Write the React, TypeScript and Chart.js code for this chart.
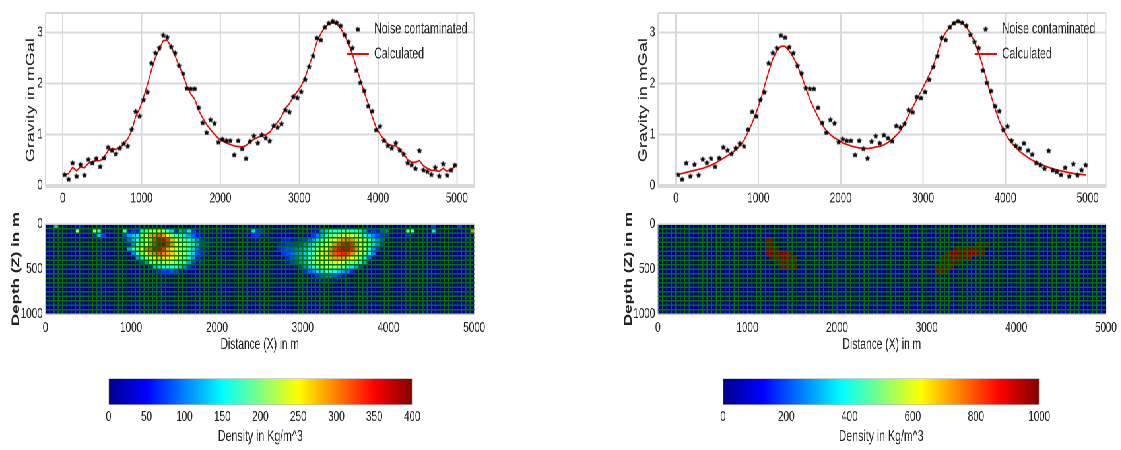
import React, { useEffect, useRef } from "react";
import { Chart, registerables } from "chart.js";

Chart.register(...registerables);

const SX = 0.66; // the whole figure is squeezed horizontally
const FONT = "'Liberation Sans', Arial, sans-serif";
const TEXT = "#222222";
const GRID = "#d9d9d9";

const stations = [25,75,125,175,225,275,325,375,425,475,525,575,625,675,725,775,825,875,925,975,1025,1075,1125,1175,1225,1275,1325,1375,1425,1475,1525,1575,1625,1675,1725,1775,1825,1875,1925,1975,2025,2075,2125,2175,2225,2275,2325,2375,2425,2475,2525,2575,2625,2675,2725,2775,2825,2875,2925,2975,3025,3075,3125,3175,3225,3275,3325,3375,3425,3475,3525,3575,3625,3675,3725,3775,3825,3875,3925,3975,4025,4075,4125,4175,4225,4275,4325,4375,4425,4475,4525,4575,4625,4675,4725,4775,4825,4875,4925,4975];

const noisy = [.21,.12,.44,.18,.41,.20,.51,.44,.53,.37,.54,.75,.69,.62,.73,.82,.77,1.10,1.45,1.36,1.68,1.83,2.40,2.60,2.70,2.95,2.91,2.72,2.60,2.35,2.20,1.91,1.90,1.90,1.53,1.23,1.04,1.29,1.22,.85,.91,.88,.88,.60,.88,.72,.53,.86,.97,.83,.99,.93,.87,1.17,1.14,1.21,1.48,1.44,1.74,1.72,1.84,2.08,2.33,2.54,2.90,2.86,3.11,3.19,3.23,3.20,3.14,2.96,2.82,2.70,2.26,2.02,1.86,1.56,1.46,1.09,1.16,.88,.78,.73,.83,.69,.61,.44,.40,.33,.68,.30,.27,.21,.35,.18,.42,.20,.30,.40];

const calcLeft = [.20,.23,.35,.28,.36,.34,.43,.46,.48,.48,.55,.68,.72,.70,.74,.82,.91,1.07,1.35,1.50,1.73,1.98,2.26,2.51,2.67,2.84,2.85,2.72,2.54,2.35,2.17,1.95,1.79,1.69,1.47,1.32,1.19,1.09,1.00,.92,.87,.83,.80,.77,.76,.75,.78,.85,.90,.94,.97,.99,1.04,1.15,1.24,1.35,1.51,1.60,1.73,1.84,1.95,2.12,2.35,2.57,2.82,2.98,3.11,3.17,3.19,3.17,3.08,2.95,2.78,2.57,2.32,2.07,1.82,1.60,1.35,1.13,1.00,.90,.80,.78,.77,.70,.61,.50,.45,.45,.48,.38,.33,.29,.29,.27,.33,.27,.31,.36];

const calcRight = [.21,.23,.25,.27,.29,.31,.33,.36,.39,.43,.48,.53,.58,.63,.69,.77,.88,1.04,1.22,1.43,1.66,1.95,2.23,2.48,2.64,2.73,2.73,2.64,2.51,2.35,2.15,1.91,1.69,1.51,1.34,1.19,1.07,.99,.93,.88,.83,.80,.77,.75,.73,.72,.72,.73,.75,.76,.79,.84,.90,.98,1.07,1.21,1.38,1.53,1.69,1.84,2.0,2.17,2.35,2.60,2.86,3.0,3.11,3.19,3.23,3.19,3.11,2.98,2.82,2.60,2.35,2.05,1.76,1.50,1.26,1.08,.94,.83,.74,.66,.60,.54,.49,.45,.41,.38,.35,.32,.30,.28,.26,.245,.23,.22,.21,.20];

const gravityTicks = [-0.04, 0, 1, 2, 3, 3.38];
const distanceTicks = [-220, 0, 1000, 2000, 3000, 4000, 5000, 5220];
const COLS = 100;
const ROWS = 20;
const CELL = 50;

// [row, first column, values...] : everything not listed is background (0)
const densityLeftRuns: number[][] = [
  [0, 2, 130], [0, 4, 40], [0, 7, 50, 45], [0, 90, 70], [0, 96, 70],
  [1, 7, 200], [1, 11, 200, 160], [1, 18, 160, 40, 70, 60, 150, 160, 200, 210, 230, 210, 170, 130, 60, 110, 90, 140, 70, 30],
  [1, 48, 140, 70, 60], [1, 62, 50, 50, 110, 130, 150, 160, 165, 170, 175, 160, 150, 140, 110, 60, 70, 50, 80, 90],
  [1, 84, 180, 170], [1, 90, 140], [1, 99, 300],
  [2, 11, 60, 130, 70], [2, 18, 80, 110, 130, 140, 200, 230, 290, 300, 320, 290, 240, 210, 170, 150, 140, 110, 90, 60, 40],
  [2, 48, 60, 70], [2, 51, 40], [2, 62, 70, 100, 120, 160, 180, 200, 220, 235, 240, 230, 210, 190, 160, 130, 100, 80, 70, 60], [2, 84, 60],
  [3, 18, 60, 90, 120, 160, 190, 240, 280, 330, 370, 370, 330, 280, 240, 200, 170, 160, 130, 100, 60, 50, 40],
  [3, 52, 30], [3, 55, 60, 60, 50, 50, 60, 70, 90, 110, 140, 180, 200, 230, 260, 280, 300, 310, 300, 270, 240, 210, 170, 130, 100, 80],
  [4, 18, 40, 60, 100, 170, 200, 240, 300, 340, 385, 390, 345, 300, 250, 230, 200, 170, 140, 110, 70, 60, 40, 30],
  [4, 54, 60, 60, 70, 70, 70, 80, 100, 120, 140, 170, 210, 240, 270, 300, 330, 350, 360, 340, 300, 260, 220, 170, 130, 100, 70],
  [5, 19, 110, 160, 200, 250, 310, 320, 370, 375, 335, 290, 260, 245, 220, 190, 160, 130, 90, 60, 50],
  [5, 54, 60, 70, 80, 80, 90, 100, 120, 140, 170, 200, 230, 260, 300, 330, 350, 370, 370, 340, 300, 260, 210, 160, 110, 70],
  [6, 20, 100, 170, 210, 260, 290, 310, 320, 300, 280, 270, 250, 230, 210, 170, 130, 80, 60, 40],
  [6, 55, 70, 80, 90, 100, 110, 130, 160, 180, 210, 240, 270, 300, 320, 330, 340, 330, 300, 270, 230, 190, 150, 100],
  [7, 21, 110, 160, 200, 230, 260, 270, 270, 260, 250, 230, 210, 180, 150, 110, 60, 40],
  [7, 56, 60, 80, 90, 110, 130, 160, 190, 210, 240, 260, 280, 290, 290, 290, 270, 240, 220, 190, 150, 90],
  [8, 22, 70, 100, 160, 190, 210, 220, 220, 210, 200, 170, 150, 110, 70, 50, 60],
  [8, 56, 50, 70, 80, 100, 120, 160, 190, 210, 230, 250, 260, 260, 250, 240, 220, 200, 180, 150, 110],
  [9, 24, 60, 120, 140, 150, 160, 160, 150, 130, 100, 70, 50],
  [9, 58, 40, 70, 100, 130, 160, 190, 200, 210, 210, 210, 200, 190, 170, 140, 110, 70],
  [10, 25, 40, 60, 70, 70, 80, 70, 50, 40],
  [10, 60, 60, 90, 100, 130, 140, 150, 150, 150, 130, 110, 100, 60],
  [11, 62, 50, 70, 80, 90, 90, 80, 70, 50],
  [12, 63, 40, 50, 60, 50, 50],
];

const densityRightRuns: number[][] = [
  [3, 24, 1000, 1000],
  [4, 24, 1000, 1000], [4, 71, 1000, 1000, 1000],
  [5, 24, 1000, 1000, 1000], [5, 66, 1000, 1000, 1000, 1000, 1000, 1000, 1000],
  [6, 24, 1000, 1000, 1000, 1000, 1000, 1000], [6, 64, 1000, 1000, 1000, 1000, 1000, 1000, 1000, 1000, 1000],
  [7, 25, 1000, 1000, 1000, 1000, 1000, 1000], [7, 63, 1000, 1000, 1000, 1000, 1000, 1000, 1000],
  [8, 26, 1000, 1000, 1000, 1000, 1000], [8, 63, 1000, 1000, 1000, 1000, 1000],
  [9, 27, 1000, 1000, 1000, 1000], [9, 62, 1000, 1000, 1000, 1000],
  [10, 62, 1000, 1000, 1000],
];

const leftBar = { max: 400, step: 50 };
const rightBar = { max: 1000, step: 200 };

const jetStops: [number, string][] = [
  [0, "#00008f"], [0.125, "#0000ff"], [0.375, "#00ffff"], [0.625, "#ffff00"], [0.875, "#ff0000"], [1, "#800000"],
];
const hex = (s: string) => [1, 3, 5].map((i) => parseInt(s.slice(i, i + 2), 16));
function jet(t: number) {
  const v = Math.max(0, Math.min(1, t));
  for (let i = 1; i < jetStops.length; i++) {
    const [p0, c0] = jetStops[i - 1];
    const [p1, c1] = jetStops[i];
    if (v <= p1) {
      const f = (v - p0) / (p1 - p0);
      const a = hex(c0), b = hex(c1);
      return `rgb(${a.map((x, k) => Math.round(x + (b[k] - x) * f)).join(",")})`;
    }
  }
  return "#800000";
}

function tableFromRuns(runs: number[][]) {
  const table = Array.from({ length: ROWS }, () => new Array(COLS).fill(0));
  runs.forEach(([row, col, ...vals]) => vals.forEach((v, i) => (table[row][col + i] = v)));
  return table;
}

function makeStar() {
  const c = document.createElement("canvas");
  c.width = 9;
  c.height = 7;
  const ctx = c.getContext("2d")!;
  ctx.fillStyle = "#000";
  ctx.beginPath();
  for (let i = 0; i < 10; i++) {
    const r = i % 2 ? 2.4 : 4.4;
    const a = -Math.PI / 2 + (i * Math.PI) / 5;
    const x = 4.5 + r * Math.cos(a);
    const y = 3.8 + r * 0.72 * Math.sin(a);
    i ? ctx.lineTo(x, y) : ctx.moveTo(x, y);
  }
  ctx.closePath();
  ctx.fill();
  return c;
}

const stage = (px: number) => px / SX;
const base = {
  responsive: false,
  devicePixelRatio: 2,
  animation: false as const,
  events: [] as string[],
};
const noTooltip = { tooltip: { enabled: false } };

function gravityConfig(calc: number[], legendX: number, canvasLeft: number, showTitle: string) {
  const star = makeStar();
  return {
    type: "scatter",
    data: {
      datasets: [
        {
          label: "Noise contaminated",
          data: stations.map((x, i) => ({ x, y: noisy[i] })),
          pointStyle: star,
          pointRadius: 4,
          showLine: false,
        },
        {
          label: "Calculated",
          data: stations.map((x, i) => ({ x, y: calc[i] })),
          showLine: true,
          borderColor: "#ff0000",
          borderWidth: 1.7,
          pointRadius: 0,
          pointStyle: "line",
          pointBorderColor: "#ff0000",
          pointBorderWidth: 2,
          pointBackgroundColor: "#ff0000",
        },
      ],
    },
    options: {
      ...base,
      layout: { autoPadding: false, padding: { top: 5.3, right: stage(30) } },
      plugins: {
        ...noTooltip,
        legend: {
          position: "chartArea",
          align: "start",
          labels: {
            usePointStyle: true,
            pointStyleWidth: stage(22),
            padding: 9,
            color: TEXT,
            font: { family: FONT, size: 16 },
          },
        },
      },
      scales: {
        x: {
          type: "linear",
          min: -220,
          max: 5220,
          afterBuildTicks: (s: any) => (s.ticks = distanceTicks.map((value) => ({ value }))),
          afterFit: (s: any) => (s.height = 17.7),
          grid: { color: GRID, lineWidth: 2, drawTicks: false },
          border: { display: false },
          ticks: {
            autoSkip: false,
            maxRotation: 0,
            padding: 2,
            color: TEXT,
            font: { family: FONT, size: 15 },
            callback: (v: number) => (v >= 0 && v <= 5000 ? String(v) : ""),
          },
        },
        y: {
          type: "linear",
          min: -0.043,
          max: 3.384,
          afterBuildTicks: (s: any) => (s.ticks = gravityTicks.map((value) => ({ value }))),
          afterFit: (s: any) => (s.width = stage(50)),
          grid: { color: GRID, lineWidth: 2, drawTicks: false },
          border: { display: false },
          title: {
            display: true,
            text: showTitle,
            color: TEXT,
            padding: { top: 43, bottom: 0 },
            font: { family: FONT, size: 18 },
          },
          ticks: {
            autoSkip: false,
            padding: 4,
            color: TEXT,
            font: { family: FONT, size: 15 },
            callback: (v: number) => (Number.isInteger(v) ? String(v) : ""),
          },
        },
      },
    },
    plugins: [
      {
        id: "placeLegend",
        afterLayout(c: any) {
          c.legend.left = stage(legendX - canvasLeft) - 9;
          c.legend.top = 12;
        },
      },
    ],
  };
}

function heatmapConfig(table: number[][], max: number) {
  const green = "#007200";
  const gridColor = (limit: number) => (c: any) =>
    c.tick && (c.tick.value === 0 || c.tick.value === limit) ? "#c4c8c4" : green;
  return {
    type: "bar",
    data: {
      datasets: table.map((row, r) => ({
        data: row.map((_, c) => ({ x: c * CELL + CELL / 2, y: [r * CELL, (r + 1) * CELL] })),
        backgroundColor: row.map((v) => jet(v / max)),
        borderWidth: 0,
        grouped: false,
        barPercentage: 1,
        categoryPercentage: 1,
      })),
    },
    options: {
      ...base,
      layout: { autoPadding: false, padding: { top: 14, right: stage(30) } },
      plugins: { ...noTooltip, legend: { display: false } },
      scales: {
        x: {
          type: "linear",
          min: 0,
          max: 5000,
          offset: false,
          afterFit: (s: any) => (s.height = 46),
          grid: { offset: false, z: 1, color: gridColor(5000), lineWidth: 1.5, drawTicks: false },
          border: { display: false },
          title: {
            display: true,
            text: "Distance (X) in m",
            color: TEXT,
            padding: { top: 0, bottom: 6 },
            font: { family: FONT, size: 15.5 },
          },
          ticks: {
            stepSize: CELL,
            autoSkip: false,
            maxRotation: 0,
            padding: 5,
            color: TEXT,
            font: { family: FONT, size: 15 },
            callback: (v: number) => (v % 1000 === 0 ? String(v) : ""),
          },
        },
        y: {
          type: "linear",
          reverse: true,
          min: 0,
          max: 1000,
          afterFit: (s: any) => (s.width = stage(50)),
          grid: { z: 1, color: gridColor(1000), lineWidth: 1.5, drawTicks: false },
          border: { display: false },
          title: {
            display: true,
            text: "Depth (Z) in m",
            color: TEXT,
            padding: { top: 21, bottom: 0 },
            font: { family: FONT, size: 17, weight: "bold" },
          },
          ticks: {
            stepSize: CELL,
            autoSkip: false,
            padding: 4,
            color: TEXT,
            font: { family: FONT, size: 15 },
            callback: (v: number) => (v % 500 === 0 ? String(v) : ""),
          },
        },
      },
    },
  };
}

function colorbarConfig(bar: { max: number; step: number }) {
  return {
    type: "bar",
    data: {
      labels: ["Density"],
      datasets: [
        {
          data: [[0, bar.max]],
          borderColor: "#bdbdbd",
          borderWidth: 1,
          borderSkipped: false,
          barPercentage: 1,
          categoryPercentage: 1,
          backgroundColor: (c: any) => {
            const area = c.chart.chartArea;
            if (!area) return "#000";
            const g = c.chart.ctx.createLinearGradient(area.left, 0, area.right, 0);
            jetStops.forEach(([p, col]) => g.addColorStop(p, col));
            return g;
          },
        },
      ],
    },
    options: {
      ...base,
      indexAxis: "y",
      layout: { autoPadding: false, padding: { top: 8.3, left: stage(30), right: stage(30) } },
      plugins: { ...noTooltip, legend: { display: false } },
      scales: {
        y: { display: false },
        x: {
          type: "linear",
          min: 0,
          max: bar.max,
          afterFit: (s: any) => (s.height = 45),
          grid: { display: false, drawTicks: false },
          border: { display: false },
          title: {
            display: true,
            text: "Density in Kg/m^3",
            color: TEXT,
            padding: { top: 0, bottom: 4 },
            font: { family: FONT, size: 16 },
          },
          ticks: {
            stepSize: bar.step,
            autoSkip: false,
            maxRotation: 0,
            padding: 3,
            color: TEXT,
            font: { family: FONT, size: 15 },
            callback: (v: number) => String(v),
          },
        },
      },
    },
  };
}

function Panel({ build, left, top, width, height }: { build: () => any; left: number; top: number; width: number; height: number }) {
  const ref = useRef<HTMLCanvasElement>(null);
  useEffect(() => {
    const chart = new Chart(ref.current!, build());
    return () => chart.destroy();
  }, []);
  return (
    <div style={{ position: "absolute", left: stage(left), top }}>
      <canvas ref={ref} width={Math.round(stage(width))} height={height} style={{ display: "block" }} />
    </div>
  );
}

export default function App() {
  useEffect(() => {
    document.body.style.margin = "0";
    document.body.style.overflow = "hidden";
  }, []);
  const heatLeft = tableFromRuns(densityLeftRuns);
  const heatRight = tableFromRuns(densityRightRuns);
  const blocks = [
    { plot: 45.5, w: 429 },
    { plot: 657.7, w: 447.8 },
  ];
  const L = blocks[0], R = blocks[1];
  const M = 50, E = 30;
  return (
    <div style={{ position: "absolute", left: 0, top: 0, width: 1121, height: 450, overflow: "hidden", background: "#fff" }}>
      <div style={{ position: "absolute", left: 0, top: 0, width: stage(1121), height: 450, transform: `scaleX(${SX})`, transformOrigin: "0 0" }}>
        <Panel build={() => gravityConfig(calcLeft, 347, L.plot - M, "Gravity in mGal")} left={L.plot - M} top={0} width={M + L.w + E} height={205} />
        <Panel build={() => heatmapConfig(heatLeft, leftBar.max)} left={L.plot - M} top={210} width={M + L.w + E} height={150} />
        <Panel build={() => colorbarConfig(leftBar)} left={108.3 - E} top={370} width={303.4 + 2 * E} height={80} />
        <Panel build={() => gravityConfig(calcRight, 974.5, R.plot - M, "Gravity in mGal")} left={R.plot - M} top={0} width={M + R.w + E} height={205} />
        <Panel build={() => heatmapConfig(heatRight, rightBar.max)} left={R.plot - M} top={210} width={M + R.w + E} height={150} />
        <Panel build={() => colorbarConfig(rightBar)} left={723.3 - E} top={370} width={316 + 2 * E} height={80} />
      </div>
    </div>
  );
}
